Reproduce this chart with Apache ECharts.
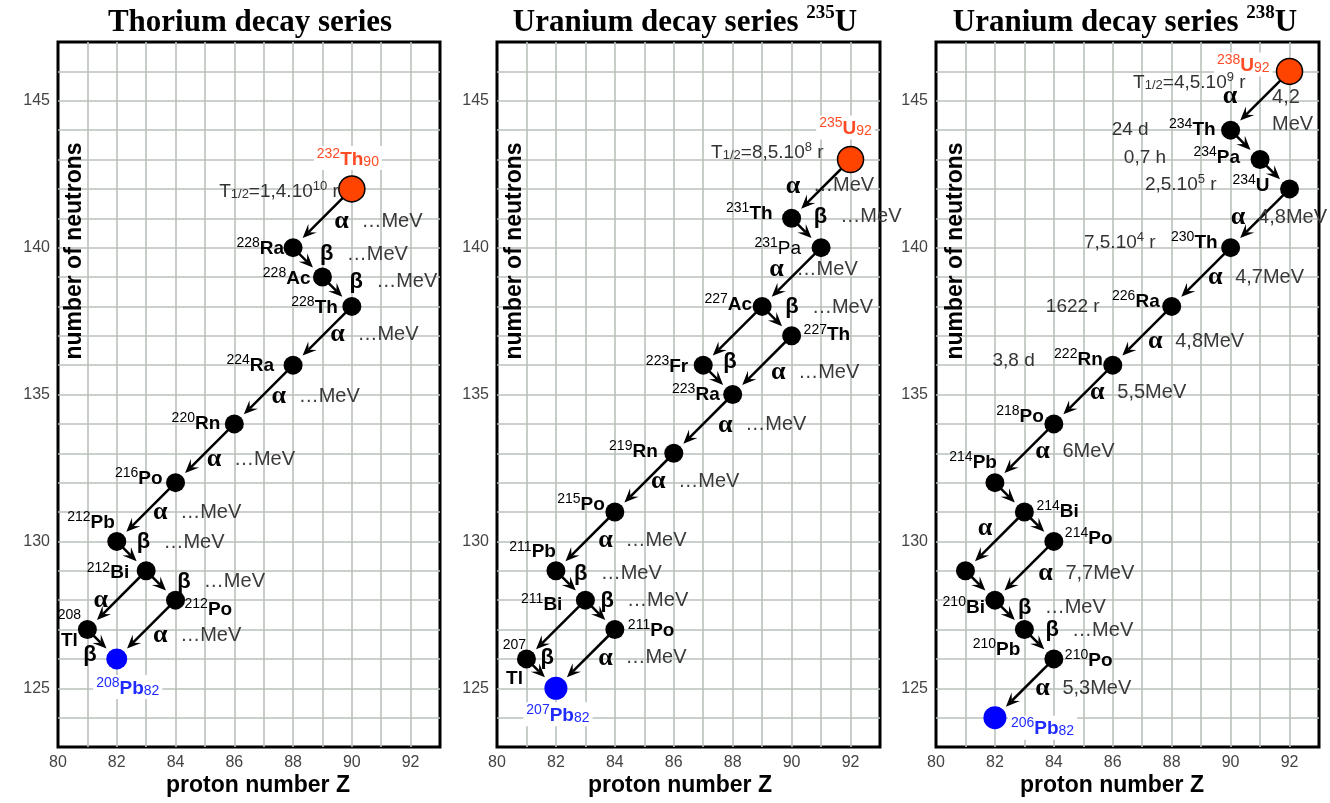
<!DOCTYPE html>
<html><head><meta charset="utf-8">
<script src="https://cdn.jsdelivr.net/npm/echarts@6/dist/echarts.min.js"></script>
<style>html,body{margin:0;padding:0;background:#fff}#c{width:1330px;height:803px}</style>
</head><body><div id="c"></div>
<script>
// ================= DATA =================
const zTicks = [80, 82, 84, 86, 88, 90, 92];
const nTicks = [125, 130, 135, 140, 145];
const titles = ['Thorium decay series', 'Uranium decay series ', 'Uranium decay series '];
const titleSup = ['', '235', '238'];
const yName = 'number of neutrons';
const xName = 'proton number Z';

// --- Thorium series ---
const thZ    = [90, 88, 89, 90, 88, 86, 84, 82, 83, 84, 81, 82];
const thN    = [142, 140, 139, 138, 136, 134, 132, 130, 129, 128, 127, 126];
const thMass = ['232','228','228','228','224','220','216','212','212','212','208','208'];
const thSym  = ['Th','Ra','Ac','Th','Ra','Rn','Po','Pb','Bi','Po','Tl','Pb'];
const thHalf = ['{t|T}{b|1/2}{t|=1,4.10}{p|10}{t| r}'];
const thFrom = [0, 1, 2, 3, 4, 5, 6, 7, 8, 8, 9, 10];
const thTo   = [1, 2, 3, 4, 5, 6, 7, 8, 9, 10, 11, 11];
const thType = ['α','β','β','α','α','α','α','β','β','α','α','β'];
const thEnergy = ['…MeV','…MeV','…MeV','…MeV','…MeV','…MeV','…MeV','…MeV','…MeV','','…MeV',''];

// --- Uranium 235 series ---
const u5Z    = [92, 90, 91, 89, 90, 87, 88, 86, 84, 82, 83, 84, 81, 82];
const u5N    = [143, 141, 140, 138, 137, 136, 135, 133, 131, 129, 128, 127, 126, 125];
const u5Mass = ['235','231','231','227','227','223','223','219','215','211','211','211','207','207'];
const u5Sym  = ['U','Th','Pa','Ac','Th','Fr','Ra','Rn','Po','Pb','Bi','Po','Tl','Pb'];
const u5Half = ['{t|T}{b|1/2}{t|=8,5.10}{p|8}{t| r}'];
const u5From = [0, 1, 2, 3, 3, 4, 5, 6, 7, 8, 9, 10, 10, 11, 12];
const u5To   = [1, 2, 3, 4, 5, 6, 6, 7, 8, 9, 10, 11, 12, 13, 13];
const u5Type = ['α','β','α','β','α','α','β','α','α','α','β','β','α','α','β'];
const u5Energy = ['…MeV','…MeV','…MeV','…MeV','','…MeV','','…MeV','…MeV','…MeV','…MeV','…MeV','','…MeV',''];

// --- Uranium 238 series ---
const u8Z    = [92, 90, 91, 92, 90, 88, 86, 84, 82, 83, 84, 81, 82, 83, 84, 82];
const u8N    = [146, 144, 143, 142, 140, 138, 136, 134, 132, 131, 130, 129, 128, 127, 126, 124];
const u8Mass = ['238','234','234','234','230','226','222','218','214','214','214','210','210','210','210','206'];
const u8Sym  = ['U','Th','Pa','U','Th','Ra','Rn','Po','Pb','Bi','Po','Tl','Bi','Pb','Po','Pb'];
const u8Half = ['{t|T}{b|1/2}{t|=4,5.10}{p|9}{t| r}', '{t|24 d}', '{t|0,7 h}', '{t|2,5.10}{p|5}{t| r}',
                '{t|7,5.10}{p|4}{t| r}', '{t|1622 r}', '{t|3,8 d}'];
const u8From = [0, 1, 2, 3, 4, 5, 6, 7, 8, 9, 9, 10, 11, 12, 13, 14];
const u8To   = [1, 2, 3, 4, 5, 6, 7, 8, 9, 10, 11, 12, 12, 13, 14, 15];
const u8Type = ['α','β','β','α','α','α','α','α','β','β','α','α','β','β','β','α'];
const u8Energy = ['4,2\nMeV','','','4,8MeV','4,7MeV','4,8MeV','5,5MeV','6MeV','','','','7,7MeV','','…MeV','…MeV','5,3MeV'];

// ================= LAYOUT (pixel offsets of texts relative to their marks) =================
const thLabelPos = [[-4,-31,'center'],[-9,0,'right'],[-12,0,'right'],[-14,0,'right'],[-19,-1,'right'],
  [-14,-2,'right'],[-13,-5,'right'],[-2,-20,'right'],[-17,1,'right'],[9,8,'left'],
  [-18,-14,'split',-18,10],[11,28,'center']];
const thHalfPos = [[-13,2,'right']];
const thDecPos = [[19,3],[19,-8],[19,-10],[15,-1],[15,2],[9,6],[14,0],[12,-14],[23,-4],[-16,0],[14,6],[-12,11]];

const u5LabelPos = [[-5,-32,'center'],[-19,-6,'right'],[-20,0,'right','n'],[-10,-3,'right'],[12,-2,'left'],
  [-15,0,'right'],[-13,-1,'right'],[-16,-3,'right'],[-10,-9,'right'],[0,-20,'right'],[-23,3,'right'],
  [13,0,'left'],[-12,-14,'split',-12,18],[2,26,'center']];
const u5HalfPos = [[-27,-8,'right']];
const u5DecPos = [[-28,-3],[14,-16],[-15,-8],[15,-14],null,[16,7],[12,-18],[22,1],[14,-1],[20,-1],
  [10,-12],[7,-14],null,[20,-1],[6,-16]];

const u8LabelPos = [[-17,-7,'right'],[-15,-2,'right'],[-20,-3,'right'],[-20,-5,'right'],[-13,-6,'right'],
  [-12,-6,'right'],[-10,-7,'right'],[-10,-9,'right'],[2,-21,'right'],[12,-2,'left'],[11,-4,'left'],
  null,[-10,6,'right'],[-4,19,'right'],[11,0,'left'],[13,10,'left']];
const u8HalfPos = [[-44,10,'right'],[-82,-1,'right'],[-94,-3,'right'],[-73,-5,'right'],[-75,-6,'right'],
  [-72,-1,'right'],[-78,-5,'right']];
const u8DecPos = [[-30,-4],null,null,[-22,-1],[14,0],[13,6],[14,-2],[18,-2],null,null,[-10,-13],[21,3],
  null,[15,-7],[13,-14],[18,0]];
const u8EnergyPos = {0: [12, 10]};

// ================= STYLE =================
const SANS = '"Liberation Sans", Arial, Helvetica, sans-serif';
const SERIF = '"Liberation Serif", "Times New Roman", serif';
const RED = '#ff4c26', RED_FILL = '#ff4400', BLUE = '#1f2bff', BLUE_FILL = '#0000ff';
const MARK = 19;

const panels = [
  {Z:thZ, N:thN, mass:thMass, sym:thSym, half:thHalf, from:thFrom, to:thTo, type:thType, energy:thEnergy,
   lab:thLabelPos, halfPos:thHalfPos, decPos:thDecPos, enPos:{}, endSize:21,
   grid:{left:58, width:382}, yNameX:75, xNameX:258, titleX:250},
  {Z:u5Z, N:u5N, mass:u5Mass, sym:u5Sym, half:u5Half, from:u5From, to:u5To, type:u5Type, energy:u5Energy,
   lab:u5LabelPos, halfPos:u5HalfPos, decPos:u5DecPos, enPos:{}, endSize:23,
   grid:{left:497, width:383}, yNameX:515, xNameX:680, titleX:685},
  {Z:u8Z, N:u8N, mass:u8Mass, sym:u8Sym, half:u8Half, from:u8From, to:u8To, type:u8Type, energy:u8Energy,
   lab:u8LabelPos, halfPos:u8HalfPos, decPos:u8DecPos, enPos:u8EnergyPos, endSize:23,
   grid:{left:936, width:383}, yNameX:956, xNameX:1112, titleX:1125}
];

function nuclideRich(color, bold) {
  return {
    m: {fontSize: 14, fontFamily: SANS, fill: color, lineHeight: 14, verticalAlign: 'top'},
    s: {fontSize: 19, fontFamily: SANS, fontWeight: bold ? 'bold' : 'normal', fill: color, lineHeight: 22, verticalAlign: 'bottom'},
    z: {fontSize: 14, fontFamily: SANS, fill: color, lineHeight: 14, verticalAlign: 'bottom'}
  };
}
const HALF_RICH = {
  t: {fontSize: 19, fontFamily: SANS, fill: '#333', lineHeight: 21, verticalAlign: 'bottom'},
  b: {fontSize: 13, fontFamily: SANS, fill: '#333', lineHeight: 13, verticalAlign: 'bottom'},
  p: {fontSize: 13, fontFamily: SANS, fill: '#333', lineHeight: 13, verticalAlign: 'top'}
};

const grids = [], xAxes = [], yAxes = [], series = [], graphics = [];

panels.forEach((p, gi) => {
  grids.push({left: p.grid.left, width: p.grid.width, top: 42, height: 705, show: true,
    borderColor: '#000', borderWidth: 3, backgroundColor: '#fff', containLabel: false, outerBoundsMode: 'none'});
  xAxes.push({type: 'value', gridIndex: gi, min: 80, max: 93, interval: 1,
    axisLine: {show: false}, axisTick: {show: false},
    splitLine: {show: true, showMinLine: false, showMaxLine: false, lineStyle: {color: '#b9c1b9', width: 1.6}},
    axisLabel: {formatter: v => zTicks.includes(v) ? String(v) : '', color: '#444', fontSize: 16, fontFamily: SANS, margin: 8}});
  yAxes.push({type: 'value', gridIndex: gi, min: 123, max: 147, interval: 1,
    axisLine: {show: false}, axisTick: {show: false},
    splitLine: {show: true, showMinLine: false, showMaxLine: false, lineStyle: {color: '#b9c1b9', width: 1.6}},
    axisLabel: {formatter: v => nTicks.includes(v) ? String(v) : '', color: '#444', fontSize: 16, fontFamily: SANS, margin: 8}});

  const last = p.Z.length - 1;
  const arrowData = p.from.map((f, k) => [p.Z[f], p.N[f], p.Z[p.to[k]], p.N[p.to[k]]]);

  // arrows + decay annotations
  series.push({
    type: 'custom', xAxisIndex: gi, yAxisIndex: gi, clip: false, silent: true, z: 2,
    encode: {x: [0, 2], y: [1, 3]}, data: arrowData,
    renderItem: (params, api) => {
      const k = params.dataIndex;
      const a = api.coord([api.value(0), api.value(1)]);
      const b = api.coord([api.value(2), api.value(3)]);
      const dx = b[0] - a[0], dy = b[1] - a[1], len = Math.hypot(dx, dy);
      const ux = dx / len, uy = dy / len, nx = -uy, ny = ux;
      const rEnd = (p.to[k] === last ? p.endSize / 2 : MARK / 2) + 4;
      const tip = [b[0] - ux * rEnd, b[1] - uy * rEnd];
      const L = 14, W = 6;
      const base = [tip[0] - ux * L, tip[1] - uy * L];
      const notch = [tip[0] - ux * L * 0.6, tip[1] - uy * L * 0.6];
      const children = [
        {type: 'line', shape: {x1: a[0], y1: a[1], x2: notch[0], y2: notch[1]}, style: {stroke: '#000', lineWidth: 2.5}},
        {type: 'polygon', shape: {points: [tip, [base[0] + nx * W, base[1] + ny * W], notch, [base[0] - nx * W, base[1] - ny * W]]},
         style: {fill: '#000'}}
      ];
      const pos = p.decPos[k];
      if (pos) {
        const mx = (a[0] + b[0]) / 2, my = (a[1] + b[1]) / 2;
        const sx = mx + pos[0], sy = my + pos[1];
        const isA = p.type[k] === 'α';
        children.push({type: 'text', x: sx, y: sy, style: {text: p.type[k], align: 'center', verticalAlign: 'middle', fill: '#000',
          fontFamily: isA ? SERIF : SANS, fontWeight: 'bold', fontSize: isA ? 26 : 22}});
        if (p.energy[k]) {
          const ep = p.enPos[k];
          const ex = ep ? mx + ep[0] : sx + 20, ey = ep ? my + ep[1] : sy;
          children.push({type: 'text', x: ex, y: ey, style: {text: p.energy[k], align: 'left', verticalAlign: 'middle',
            fill: '#3a3a3a', fontFamily: SANS, fontSize: 20, lineHeight: 27}});
        }
      }
      return {type: 'group', children};
    }
  });

  // nuclide markers
  series.push({
    type: 'scatter', xAxisIndex: gi, yAxisIndex: gi, silent: true, z: 3, symbol: 'circle',
    data: p.Z.map((z, i) => ({
      value: [z, p.N[i]],
      symbolSize: i === 0 ? 26 : (i === last ? p.endSize : MARK),
      itemStyle: i === 0 ? {color: RED_FILL, borderColor: '#000', borderWidth: 1.5, opacity: 1}
               : (i === last ? {color: BLUE_FILL, opacity: 1} : {color: '#000', opacity: 1})
    }))
  });

  // nuclide labels + half-lives
  series.push({
    type: 'custom', xAxisIndex: gi, yAxisIndex: gi, clip: false, silent: true, z: 4,
    encode: {x: 0, y: 1}, data: p.Z.map((z, i) => [z, p.N[i]]),
    renderItem: (params, api) => {
      const i = params.dataIndex;
      const c = api.coord([api.value(0), api.value(1)]);
      const children = [];
      const L = p.lab[i];
      if (L) {
        const special = (i === 0 || i === last);
        const color = i === 0 ? RED : (i === last ? BLUE : '#000');
        const rich = nuclideRich(color, L[3] !== 'n');
        if (L[2] === 'split') {
          children.push({type: 'text', x: c[0] + L[0], y: c[1] + L[1], style: {text: '{m|' + p.mass[i] + '}', rich, align: 'center', verticalAlign: 'middle'}});
          children.push({type: 'text', x: c[0] + L[3], y: c[1] + L[4], style: {text: '{s|' + p.sym[i] + '}', rich, align: 'center', verticalAlign: 'middle'}});
        } else {
          let t = '{m|' + p.mass[i] + '}{s|' + p.sym[i] + '}';
          if (special) t += '{z|' + p.Z[i] + '}';
          const st = {text: t, rich, align: L[2], verticalAlign: 'middle'};
          if (special) { st.backgroundColor = '#fff'; st.padding = [1, 3]; }
          children.push({type: 'text', x: c[0] + L[0], y: c[1] + L[1], style: st});
        }
      }
      const H = p.half[i], HP = p.halfPos[i];
      if (H && HP) {
        children.push({type: 'text', x: c[0] + HP[0], y: c[1] + HP[1], style: {text: H, rich: HALF_RICH, align: HP[2], verticalAlign: 'middle'}});
      }
      return {type: 'group', children};
    }
  });

  // titles & axis names
  graphics.push({type: 'text', x: p.titleX, y: 21, z: 10, style: {
    text: '{a|' + titles[gi] + '}' + (titleSup[gi] ? '{b|' + titleSup[gi] + '}{a|U}' : ''),
    rich: {a: {fontSize: 31, fontWeight: 'bold', fontFamily: SERIF, fill: '#000', lineHeight: 34, verticalAlign: 'bottom'},
           b: {fontSize: 19, fontWeight: 'bold', fontFamily: SERIF, fill: '#000', lineHeight: 20, verticalAlign: 'top'}},
    align: 'center', verticalAlign: 'middle'}});
  graphics.push({type: 'text', x: p.yNameX, y: 251, rotation: Math.PI / 2, z: 10, style: {
    text: yName, fontSize: 23, fontWeight: 'bold', fontFamily: SANS, fill: '#000', align: 'center', verticalAlign: 'middle'}});
  graphics.push({type: 'text', x: p.xNameX, y: 786, z: 10, style: {
    text: xName, fontSize: 23, fontWeight: 'bold', fontFamily: SANS, fill: '#000', align: 'center', verticalAlign: 'middle'}});
});

const chart = echarts.init(document.getElementById('c'), null, {renderer: 'canvas'});
chart.setOption({
  animation: false,
  backgroundColor: '#fff',
  grid: grids, xAxis: xAxes, yAxis: yAxes, series: series, graphic: graphics
});
</script></body></html>
